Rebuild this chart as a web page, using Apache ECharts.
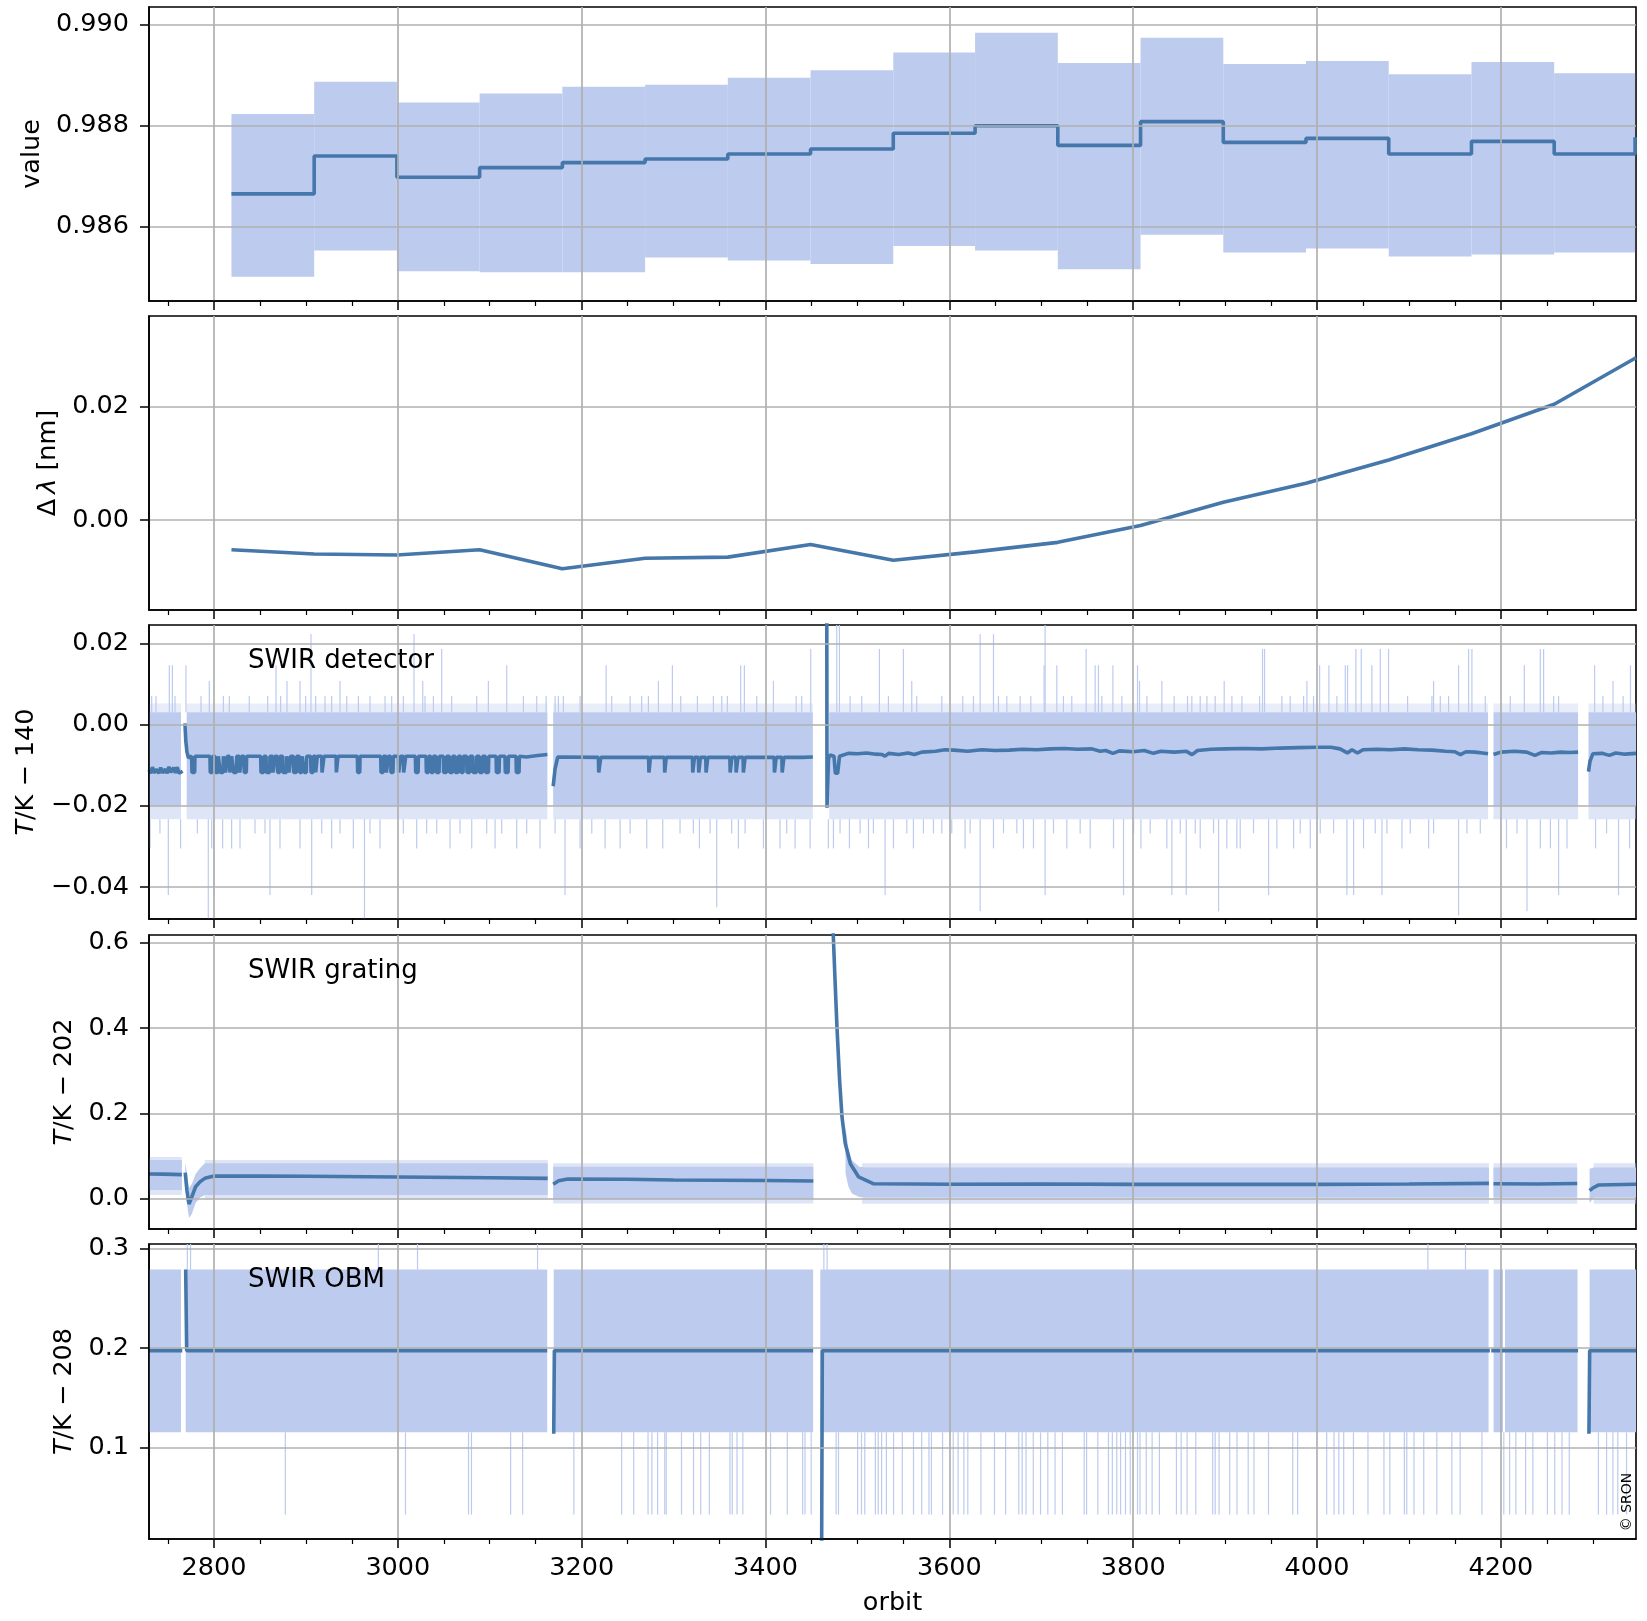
<!DOCTYPE html>
<html><head><meta charset="utf-8">
<script src="https://cdn.jsdelivr.net/npm/echarts@6/dist/echarts.min.js"></script>
<style>html,body{margin:0;padding:0;background:#fff}#c{width:1647px;height:1621px}</style>
</head><body><div id="c"></div>
<script>
// ---------------- data ----------------
const X_MIN = 2729.3, X_MAX = 4347;
const xMajor = [2800, 3000, 3200, 3400, 3600, 3800, 4000, 4200];
const xMinor = [2750,2850,2900,2950,3050,3100,3150,3250,3300,3350,3450,3500,3550,3650,3700,3750,3850,3900,3950,4050,4100,4150,4250,4300];

// panel 1: value (step mean with min/max band)
const p1_stepStart = [2819,2909,2999,3089,3179,3269,3359,3449,3539,3628,3718,3808,3898,3988,4078,4168,4258];
const p1_stepEnd   = [2909,2999,3089,3179,3269,3359,3449,3539,3628,3718,3808,3898,3988,4078,4168,4258,4346];
const p1_mean  = [0.98665,0.98740,0.98698,0.98717,0.98727,0.98734,0.98744,0.98754,0.98785,0.98800,0.98761,0.98808,0.98767,0.98775,0.98744,0.98769,0.98744];
const p1_upper = [0.98823,0.98887,0.98846,0.98864,0.98877,0.98881,0.98895,0.98910,0.98945,0.98984,0.98924,0.98974,0.98922,0.98928,0.98902,0.98926,0.98904];
const p1_lower = [0.98501,0.98553,0.98512,0.98510,0.98510,0.98539,0.98533,0.98526,0.98562,0.98553,0.98516,0.98584,0.98549,0.98557,0.98541,0.98545,0.98549];
const p1_nextMean = [4346, 0.98777];
const p1_yTicks = [0.986, 0.988, 0.990];

// panel 2: wavelength shift
const p2_x = [2819,2909,2999,3089,3179,3269,3359,3449,3539,3628,3718,3808,3898,3988,4078,4168,4258,4347];
const p2_v = [-0.00519,-0.00593,-0.00611,-0.00519,-0.00852,-0.00667,-0.00648,-0.00426,-0.00704,-0.00556,-0.00389,-0.00093,0.00315,0.00648,0.01056,0.01519,0.02037,0.02852];
const p2_yTicks = [0.00, 0.02];

// panel 3: SWIR detector temperature
const det_bandSegs = [[2729.3,2764.1],[2770.3,3162.7],[3169,3451.5],[3469.3,4186],[4192,4284],[4295.3,4347]];
const det_bandLo = -0.0200, det_bandHi = 0.0030, det_combLo = -0.0233, det_combHi = 0.0052;
const det_lineA = [[2729.3,-0.0112],[2731,-0.0120],[2733,-0.0105],[2735,-0.0119],[2737,-0.0110],[2740,-0.0120],[2742,-0.0106],[2744,-0.0119],[2747,-0.0110],[2749,-0.0120],[2751,-0.0104],[2753,-0.0118],[2756,-0.0106],[2758,-0.0119],[2760,-0.0105],[2762,-0.0120],[2765.9,-0.0115]];
const det_lineBStart = [[2768.4,0.0003],[2769.3,-0.0040],[2770.6,-0.0068],[2772.2,-0.0082],[2774,-0.0078]];
const det_lineBEnd = [[3140,-0.0080],[3150,-0.0077],[3162.7,-0.0074]];
const det_baseB = -0.0078, det_dipLevel = -0.0118;
const det_dipsB = [[2775.7,2779.3],[2795.6,2798.5],[2801.1,2804.7],[2806.5,2810.2],[2812.0,2814.5],[2816.7,2819.2],[2821.0,2824.7],[2827.6,2830.1],[2832.6,2835.5],[2850.8,2854.4],[2856.6,2860.9],[2863.8,2866.4],[2868.9,2871.8],[2874.7,2879.1],[2881.2,2883.4],[2886.3,2890.0],[2892.9,2895.8],[2897.9,2900.8],[2905.2,2908.1],[2910.3,2912.4],[2917.2,2919.7],[2932.8,2934.9],[2956.0,2958.9],[2981.4,2984.3],[2987.2,2989.7],[2992.2,2995.1],[3000.6,3003.1],[3006.0,3008.6],[3019.1,3022.4],[3030.7,3033.6],[3035.8,3038.7],[3041.6,3045.2],[3049.5,3053.2],[3056.1,3059.7],[3062.2,3065.9],[3068.4,3071.3],[3074.9,3078.6],[3081.5,3085.8],[3088.7,3092.3],[3095.2,3098.9],[3106.9,3110.5],[3116.6,3120.3],[3128.6,3132.2]];
const det_lineCStart = [[3169,-0.0152],[3171,-0.0110],[3174,-0.0080]];
const det_lineCEnd = [[3440,-0.0081],[3451.5,-0.0080]];
const det_baseC = -0.0081;
const det_dipsC = [[3218.2,3220.8],[3272.8,3274.8],[3290,3292],[3320.5,3322.7],[3327,3329.2],[3335,3337.2],[3361.2,3363.4],[3367.7,3370],[3375.6,3377.8],[3409.4,3411.6],[3417.8,3420]];
const det_lineD = [[3466.5,0.06],[3466.9,-0.0205],[3468.5,-0.0085],[3470,-0.0075],[3474.5,-0.0078],[3476,-0.0120],[3478.5,-0.0120],[3480.5,-0.0078],[3490,-0.0071],[3500,-0.0072],[3510,-0.0070],[3520,-0.0073],[3527,-0.0074],[3530,-0.0078],[3534,-0.0071],[3545,-0.0074],[3555,-0.0070],[3562,-0.0074],[3570,-0.0068],[3585,-0.0066],[3595,-0.0062],[3605,-0.0063],[3620,-0.0066],[3635,-0.0062],[3650,-0.0064],[3665,-0.0063],[3680,-0.0061],[3695,-0.0062],[3710,-0.0060],[3725,-0.0059],[3740,-0.0061],[3755,-0.0060],[3764,-0.0066],[3770,-0.0064],[3778,-0.0071],[3785,-0.0065],[3800,-0.0067],[3812,-0.0064],[3822,-0.0071],[3830,-0.0066],[3845,-0.0068],[3858,-0.0066],[3864,-0.0074],[3870,-0.0064],[3885,-0.0061],[3900,-0.0060],[3920,-0.0059],[3940,-0.0060],[3960,-0.0058],[3980,-0.0057],[4000,-0.0056],[4015,-0.0056],[4025,-0.0060],[4033,-0.0070],[4038,-0.0062],[4044,-0.0070],[4050,-0.0062],[4065,-0.0061],[4080,-0.0062],[4095,-0.0060],[4110,-0.0062],[4125,-0.0063],[4140,-0.0066],[4150,-0.0067],[4156,-0.0074],[4162,-0.0067],[4172,-0.0068],[4180,-0.0070],[4186,-0.0072]];
const det_lineE = [[4192,-0.0074],[4200,-0.0068],[4215,-0.0066],[4228,-0.0068],[4237,-0.0076],[4244,-0.0069],[4255,-0.0070],[4265,-0.0068],[4275,-0.0069],[4284,-0.0068]];
const det_lineF = [[4295.3,-0.0116],[4297,-0.0090],[4300,-0.0072],[4310,-0.0071],[4318,-0.0076],[4325,-0.0070],[4335,-0.0073],[4347,-0.0071]];
const det_up = [[2732.2,0.0070],[2736.9,0.0070],[2751.4,0.0146],[2754.7,0.0146],[2757.6,0.0070],[2769.5,0.0146],[2785.9,0.0070],[2794.9,0.0107],[2810.2,0.0070],[2816.7,0.0070],[2838.4,0.0070],[2858.4,0.0070],[2867.5,0.0146],[2872.5,0.0070],[2879.4,0.0107],[2893.6,0.0107],[2899.7,0.0070],[2905.5,0.0223],[2910.6,0.0070],[2920.8,0.0070],[2928.0,0.0070],[2937.1,0.0107],[2944.4,0.0070],[2957.1,0.0070],[2969.7,0.0070],[2986.1,0.0070],[2993.3,0.0070],[3006.0,0.0070],[3017.6,0.0223],[3027.1,0.0107],[3029.6,0.0070],[3038.7,0.0070],[3047.7,0.0186],[3058.6,0.0070],[3085.8,0.0070],[3098.5,0.0107],[3118.5,0.0146],[3136.6,0.0070],[3151.1,0.0070],[3161.3,0.0070],[3171.1,0.0070],[3174.7,0.0070],[3180.1,0.0070],[3198.3,0.0070],[3226.6,0.0146],[3232.7,0.0070],[3252.7,0.0070],
  [3265.3,0.0070],[3272.6,0.0070],[3283.5,0.0107],[3298.7,0.0146],[3307.8,0.0070],[3325.9,0.0070],[3343.3,0.0070],[3352.4,0.0070],[3358.5,0.0070],[3373.0,0.0146],[3377.0,0.0146],[3390.5,0.0070],[3408.6,0.0107],[3433.3,0.0070],[3439.4,0.0070],[3449.2,0.0186],[3477.5,0.0250],[3480.4,0.0250],[3492.0,0.0070],[3504.7,0.0070],[3523.9,0.0186],[3533.7,0.0070],[3550.0,0.0186],[3559.1,0.0107],[3564.5,0.0070],[3591.8,0.0070],[3614.6,0.0070],[3626.2,0.0070],[3633.5,0.0223],[3648.0,0.0223],[3653.4,0.0070],[3662.5,0.0070],[3677.0,0.0070],[3688.6,0.0070],[3703.1,0.0146],[3704.2,0.0250],[3716.9,0.0146],[3724.1,0.0070],[3733.2,0.0070],[3748.8,0.0186],[3758.6,0.0146],[3762.2,0.0146],
  [3765.9,0.0070],[3777.9,0.0146],[3787.7,0.0070],[3804.7,0.0146],[3806.9,0.0107],[3814.9,0.0070],[3831.2,0.0107],[3844.6,0.0070],[3859.1,0.0070],[3863.8,0.0070],[3872.9,0.0070],[3880.2,0.0070],[3889.2,0.0070],[3899.0,0.0107],[3907.4,0.0070],[3918.3,0.0070],[3937.5,0.0070],[3940.7,0.0186],[3942.9,0.0186],[3961.8,0.0070],[3970.8,0.0070],[3985.4,0.0070],[3989.0,0.0107],[3996.2,0.0070],[4002.8,0.0146],[4012.9,0.0146],[4021.6,0.0070],[4030.7,0.0146],[4033.2,0.0146],[4042.3,0.0186],[4048.1,0.0186],[4059.7,0.0146],[4068.8,0.0186],[4077.8,0.0186],[4098.5,0.0070],[4125.0,0.0070],[4126.8,0.0107],[4134.1,0.0070],[4143.1,0.0070],[4154.0,0.0146],[4164.9,0.0186],[4168.5,0.0186],[4183.0,0.0070],[4210.2,0.0070],[4225.5,0.0146],[4242.9,0.0186],[4246.5,0.0186],[4257.4,0.0070],[4262.8,0.0070],[4302,0.0146],[4311,0.0070],[4322,0.0107],[4333,0.0070],[4341,0.0146]];
const det_down = [[2730.4,-0.0305],[2741.2,-0.0268],[2750.3,-0.042],[2763.7,-0.0305],[2781.9,-0.0268],[2793.8,-0.048],[2797.5,-0.0305],[2800.0,-0.042],[2809.4,-0.0305],[2819.2,-0.0305],[2828.3,-0.0305],[2844.6,-0.0268],[2855.5,-0.0268],[2860.9,-0.042],[2871.8,-0.0305],[2893.6,-0.0305],[2906.3,-0.042],[2917.2,-0.0268],[2928.0,-0.0305],[2937.1,-0.0268],[2951.6,-0.0305],[2963.7,-0.048],[2969.7,-0.0268],[2980.6,-0.0305],[3006.0,-0.0268],[3020.5,-0.0305],[3031.4,-0.0268],[3042.3,-0.0268],[3056.8,-0.0305],[3067.7,-0.0268],[3080.4,-0.0305],[3096.7,-0.0268],[3105.8,-0.0305],[3113.0,-0.0268],[3129.3,-0.0305],[3140.2,-0.0268],[3154.7,-0.0305],[3171.1,-0.0268],[3181.9,-0.042],[3198.3,-0.0305],[3211.0,-0.0268],[3225.5,-0.0305],[3241.8,-0.0305],[3252.7,-0.0268],
  [3270.8,-0.0305],[3288.2,-0.0305],[3307.0,-0.0268],[3321.5,-0.0268],[3328.1,-0.0305],[3339.7,-0.0268],[3346.9,-0.045],[3363.2,-0.0268],[3370.5,-0.0305],[3377.8,-0.0268],[3397.7,-0.0305],[3415.8,-0.0305],[3423.1,-0.0268],[3432.2,-0.0305],[3448.5,-0.0305],[3468.4,-0.0305],[3473.9,-0.0305],[3481.1,-0.0268],[3491.3,-0.0305],[3502.9,-0.0268],[3512.0,-0.0305],[3517.4,-0.0268],[3530.1,-0.042],[3539.2,-0.0305],[3553.7,-0.0268],[3560.9,-0.0305],[3571.8,-0.0268],[3582.7,-0.0268],[3591.8,-0.0268],[3602.6,-0.0268],[3617.1,-0.0305],[3622.6,-0.0268],[3633.5,-0.046],[3648.0,-0.0305],[3658.9,-0.0268],[3673.4,-0.0268],[3680.6,-0.0305],[3691.5,-0.0305],[3704.2,-0.042],[3713.3,-0.0268],[3727.8,-0.0305],[3742.3,-0.0268],[3753.2,-0.0305],
  [3778.6,-0.0305],[3789.5,-0.042],[3800.4,-0.0268],[3808.4,-0.0305],[3818.5,-0.0268],[3836.6,-0.0305],[3842.1,-0.042],[3851.2,-0.0268],[3857.7,-0.042],[3867.5,-0.0268],[3872.9,-0.0305],[3887.4,-0.0268],[3892.9,-0.046],[3901.9,-0.0305],[3912.8,-0.0305],[3916.4,-0.0305],[3930.9,-0.0268],[3947.3,-0.042],[3956.3,-0.0305],[3974.5,-0.0305],[3981.7,-0.0268],[3992.6,-0.0305],[4003.5,-0.0268],[4018.0,-0.0268],[4032.5,-0.042],[4039.8,-0.042],[4050.6,-0.0305],[4063.3,-0.0268],[4070.6,-0.042],[4076.0,-0.0268],[4092.4,-0.0305],[4101.4,-0.0268],[4121.4,-0.0305],[4126.8,-0.0268],[4154.0,-0.047],[4163.1,-0.0268],[4177.6,-0.0268],[4206.1,-0.0305],[4217.5,-0.0268],[4228.4,-0.046],[4242.9,-0.0305],[4253.9,-0.0305],[4262.8,-0.042],[4271.9,-0.0305],[4303,-0.0305],[4315,-0.0268],[4328,-0.042],[4340,-0.0305]];
const det_yTicks = [-0.04, -0.02, 0.00, 0.02];

// panel 4: SWIR grating temperature
const grt_bandPolys = [
  [[2729.3,0.0203,0.0906],[2765,0.0203,0.0906]],
  [[2768.7,0.03,0.085],[2770.5,-0.01,0.06],[2772.8,-0.045,0.025],[2776,-0.035,0.035],[2780,-0.01,0.058],[2785,0.003,0.072],[2790,0.0086,0.083],[3163,0.0086,0.083]],
  [[3169,-0.001,0.075],[3452,-0.001,0.075]],
  [[3487,0.06,0.17],[3490,0.03,0.12],[3494,0.012,0.09],[3502,0.004,0.075],[3510,0.003,0.073],[4187,0.003,0.073]],
  [[4192,0.003,0.073],[4283,0.003,0.073]],
  [[4296.5,-0.01,0.07],[4301,0.003,0.073],[4347,0.003,0.073]]
];
const grt_combPolys = [
  [[2729.3,0.0086,0.098],[2765,0.0086,0.098]],
  [[2790,-0.0016,0.0906],[3163,-0.0016,0.0906]],
  [[3169,-0.011,0.083],[3452,-0.011,0.083]],
  [[3505,-0.012,0.083],[4187,-0.012,0.083]],
  [[4192,-0.012,0.083],[4283,-0.012,0.083]],
  [[4301,-0.012,0.083],[4347,-0.012,0.083]]
];
const grt_lineSegs = [
  [[2729.3,0.0578],[2745,0.0575],[2765,0.0565]],
  [[2768.7,0.061],[2770.5,0.02],[2772.8,-0.0125],[2776,0.005],[2780,0.028],[2785,0.040],[2790,0.0477],[2800,0.053],[2850,0.0530],[2900,0.0525],[3000,0.0508],[3100,0.049],[3163,0.0477]],
  [[3169,0.034],[3175,0.042],[3185,0.046],[3250,0.0455],[3300,0.044],[3400,0.0425],[3452,0.0416]],
  [[3466.5,2.5],[3471,1.0],[3473.5,0.63],[3475.6,0.514],[3477.7,0.404],[3480.6,0.278],[3483.2,0.192],[3486.8,0.129],[3492.3,0.082],[3501.3,0.051],[3517.7,0.035],[3600,0.034],[3700,0.0345],[3800,0.0335],[3900,0.034],[4000,0.0335],[4100,0.0345],[4187,0.036]],
  [[4192,0.035],[4240,0.0345],[4283,0.0355]],
  [[4296.5,0.019],[4300,0.025],[4306,0.032],[4347,0.034]]
];
const grt_yTicks = [0.0, 0.2, 0.4, 0.6];

// panel 5: SWIR OBM temperature
const obm_bandSegs = [[2729.3,2764.1],[2769.2,3162.5],[3169.6,3451.8],[3459.6,4186.6],[4192.1,4202.3],[4204.5,4283.4],[4296.5,4347]];
const obm_bandLo = 0.1155, obm_bandHi = 0.2788;
const obm_lineSegs = [
  [[2729.3,0.1975],[2765.5,0.1975]],
  [[2769.2,0.279],[2770.3,0.1975],[3162.5,0.1975]],
  [[3169.6,0.114],[3170.3,0.1975],[3451.8,0.1975]],
  [[3461,-0.02],[3461.8,0.1975],[4188,0.1975]],
  [[4189.5,0.1975],[4284,0.1975]],
  [[4295.8,0.114],[4296.6,0.1975],[4347,0.1975]]
];
const obm_upOrbits = [2771,2774.5,2978.8,3021.4,3152,3463.5,3467,4120.6,4161.5];
const obm_upTop = 0.31;
const obm_downOrbits = [2877.6,3008.3,3076.9,3080.1,3122.7,3135.8,3191.5,3243.5,3256.6,3272.2,3276.4,3282.6,3290.4,3292.0,3308.6,3321.7,3329.5,3338.9,3361.3,3363.8,3369.0,3375.3,3405.5,3423.7,3440.4,3443.0,3449.7,3476.8,3479.4,3500.2,3504.4,3508.0,3519.5,3522.6,3526.3,3531.5,3539.3,3548.8,3561.0,3569.9,3577.8,3580.5,3592.6,3604.2,3609.5,3615.8,3620.1,3634.3,3649.1,3661.2,3675.5,3679.2,3683.4,3691.3,3699.2,3707.1,3715.0,3723.0,3746.7,3749.3,3761.5,3773.1,3777.3,3782.1,3786.3,3791.6,3796.8,3804.7,3807.4,3814.2,3820.6,3828.5,3847.0,3852.2,3858.6,3868.1,3886.5,3889.2,3893.4,3905.0,3912.9,3925.1,3931.4,3947.2,3973.6,3978.9,4010.5,4018.5,4023.7,4029.0,4039.6,4055.4,4072.8,4079.2,4095.0,4097.6,4105.5,4116.1,4130.3,4146.7,4155.7,4179.4,4203.2,4209.5,4216.3,4226.9,4234.8,4250.6,4258.6,4266.5,4274.4,4306.1,4315.0,4321.9,4327.2,4336.7];
const obm_downBottom = 0.033;
const obm_yTicks = [0.1, 0.2, 0.3];

// ---------------- styling / layout ----------------
const FONT = 'DejaVu Sans';
const FS = 25.5;
const BAND = '#bccbee';
const LINEC = '#4577ab';
const GRIDC = '#b0b0b0';
const GRID_TOP = [7, 316, 625, 935, 1244];
const GRID_H = [294, 294, 294, 294, 295];
const Y_RANGE = [[0.98453, 0.99035], [-0.01577, 0.03586], [-0.04788, 0.0245], [-0.071, 0.618], [0.0085, 0.3045]];
const Y_TICKS = [p1_yTicks, p2_yTicks, det_yTicks, grt_yTicks, obm_yTicks];
const Y_DEC = [3, 2, 2, 1, 1];
const Y_NAMES = ['value', '{n|Δ\u2009}{i|λ}{n| [nm]}', '{i|T}{n|/K − 140}', '{i|T}{n|/K − 202}', '{i|T}{n|/K − 208}'];
const Y_NAMEGAP = [100, 88, 110, 68, 68];

// ---------------- builders ----------------
function segsToLine(segs) {
  const out = [];
  segs.forEach((s, k) => {
    if (k > 0) out.push([s[0][0], '-']);
    s.forEach(p => out.push(p));
  });
  return out;
}
function withDips(start, base, dips, level, end) {
  const pts = start.slice();
  dips.forEach(d => {
    pts.push([d[0], base]); pts.push([d[0] + 0.35, level]);
    pts.push([d[1] - 0.35, level]); pts.push([d[1], base]);
  });
  return pts.concat(end);
}
function rectPolys(segs, lo, hi) { return segs.map(s => [[s[0], lo, hi], [s[1], lo, hi]]); }

function bandSeries(panel, polys, opacity) {
  return {
    type: 'custom', xAxisIndex: panel * 2, yAxisIndex: panel, clip: true, silent: true, z: 1,
    data: polys.map((p, i) => [p[0][0], p[0][1], i]),
    encode: { x: 0, y: 1 },
    renderItem: function (params, api) {
      const poly = polys[params.dataIndex];
      const pts = [];
      poly.forEach(v => pts.push(api.coord([v[0], v[2]])));
      for (let k = poly.length - 1; k >= 0; k--) pts.push(api.coord([poly[k][0], poly[k][1]]));
      return { type: 'polygon', shape: { points: pts }, style: { fill: BAND, opacity: opacity } };
    }
  };
}
function spikeSeries(panel, items) {
  return {
    type: 'custom', xAxisIndex: panel * 2, yAxisIndex: panel, clip: true, silent: true, z: 1,
    data: items, encode: { x: 0, y: [1, 2] },
    renderItem: function (params, api) {
      const a = api.coord([api.value(0), api.value(1)]);
      const b = api.coord([api.value(0), api.value(2)]);
      return { type: 'line', shape: { x1: a[0], y1: a[1], x2: b[0], y2: b[1] }, style: { stroke: BAND, lineWidth: 1.2 } };
    }
  };
}
function lineSeries(panel, data) {
  return {
    type: 'line', xAxisIndex: panel * 2, yAxisIndex: panel, data: data, showSymbol: false, symbol: 'none',
    connectNulls: false, clip: true, silent: true, z: 3, lineStyle: { color: LINEC, width: 3.6 }
  };
}

// panel 1 step line and band
const p1_line = [];
p1_stepStart.forEach((x, i) => { p1_line.push([x, p1_mean[i]]); p1_line.push([p1_stepEnd[i], p1_mean[i]]); });
p1_line.push(p1_nextMean);
const p1_polys = p1_stepStart.map((x, i) => [[x, p1_lower[i], p1_upper[i]], [p1_stepEnd[i], p1_lower[i], p1_upper[i]]]);

// panel 2 line
const p2_line = p2_x.map((x, i) => [x, p2_v[i]]);

// panel 3
const det_line = segsToLine([
  det_lineA,
  withDips(det_lineBStart, det_baseB, det_dipsB, det_dipLevel, det_lineBEnd),
  withDips(det_lineCStart, det_baseC, det_dipsC, det_dipLevel, det_lineCEnd),
  det_lineD, det_lineE, det_lineF
]);
const det_upItems = det_up.map(s => [s[0], det_bandHi, s[1]]);
const det_downItems = det_down.map(s => [s[0], det_combLo, s[1]]);

// panel 5
const obm_upItems = obm_upOrbits.map(x => [x, obm_bandHi, obm_upTop]);
const obm_downItems = obm_downOrbits.map(x => [x, obm_bandLo, obm_downBottom]);

// ---------------- option ----------------
const grids = [], xAxes = [], yAxes = [];
for (let i = 0; i < 5; i++) {
  grids.push({ left: 149, right: 11, top: GRID_TOP[i], height: GRID_H[i], show: true, borderColor: '#000', borderWidth: 1.6, backgroundColor: 'rgba(0,0,0,0)' });
  xAxes.push({
    gridIndex: i, type: 'value', min: X_MIN, max: X_MAX, position: 'bottom', z: 5,
    axisLine: { show: true, onZero: false, lineStyle: { color: '#000', width: 1.6 } },
    axisTick: { show: true, inside: false, length: 9, lineStyle: { color: '#000', width: 1.5 }, customValues: xMajor },
    axisLabel: { show: i === 4, customValues: xMajor, margin: 16, fontSize: FS, fontFamily: FONT, color: '#000', formatter: v => String(Math.round(v)) },
    splitLine: { show: true, lineStyle: { color: GRIDC, width: 1.7 } },
    name: i === 4 ? 'orbit' : '', nameLocation: 'middle', nameGap: 51,
    nameTextStyle: { fontSize: FS, fontFamily: FONT, color: '#000' }
  });
  xAxes.push({
    gridIndex: i, type: 'value', min: X_MIN, max: X_MAX, position: 'top', offset: -GRID_H[i], z: 5,
    axisLine: { show: false, onZero: false },
    axisTick: { show: true, inside: true, length: 5, lineStyle: { color: '#000', width: 1.2 }, customValues: xMinor },
    axisLabel: { show: false, customValues: xMinor },
    splitLine: { show: false }
  });
  yAxes.push({
    gridIndex: i, type: 'value', min: Y_RANGE[i][0], max: Y_RANGE[i][1], z: 5,
    axisLine: { show: true, onZero: false, lineStyle: { color: '#000', width: 1.6 } },
    axisTick: { show: true, inside: false, length: 9, lineStyle: { color: '#000', width: 1.5 }, customValues: Y_TICKS[i] },
    axisLabel: {
      customValues: Y_TICKS[i], margin: 20, fontSize: FS, fontFamily: FONT, color: '#000',
      formatter: (v => { const s = Math.abs(v).toFixed(Y_DEC[i]); return v < -1e-12 ? '\u2212' + s : s; })
    },
    splitLine: { show: true, lineStyle: { color: GRIDC, width: 1.7 } },
    name: Y_NAMES[i], nameLocation: 'middle', nameGap: Y_NAMEGAP[i], nameRotate: 90,
    nameTextStyle: {
      fontSize: FS, fontFamily: FONT, color: '#000',
      rich: { n: { fontSize: FS, fontFamily: FONT, color: '#000' }, i: { fontSize: FS, fontFamily: FONT, color: '#000', fontStyle: 'italic' } }
    }
  });
}

const series = [
  bandSeries(0, p1_polys, 1), lineSeries(0, p1_line),
  lineSeries(1, p2_line),
  bandSeries(2, rectPolys(det_bandSegs, det_bandLo, det_bandHi), 1),
  bandSeries(2, rectPolys(det_bandSegs, det_combLo, det_bandLo), 0.5),
  bandSeries(2, rectPolys(det_bandSegs, det_bandHi, det_combHi), 0.35),
  spikeSeries(2, det_upItems), spikeSeries(2, det_downItems),
  lineSeries(2, det_line),
  bandSeries(3, grt_bandPolys, 1), bandSeries(3, grt_combPolys, 0.5),
  lineSeries(3, segsToLine(grt_lineSegs)),
  bandSeries(4, rectPolys(obm_bandSegs, obm_bandLo, obm_bandHi), 1),
  spikeSeries(4, obm_upItems), spikeSeries(4, obm_downItems),
  lineSeries(4, segsToLine(obm_lineSegs))
];

const labelStyle = { fontSize: 26, fontFamily: FONT, fill: '#000', align: 'left', verticalAlign: 'middle' };
const option = {
  animation: false,
  backgroundColor: '#fff',
  grid: grids, xAxis: xAxes, yAxis: yAxes, series: series,
  graphic: [
    { type: 'text', x: 248, y: GRID_TOP[2] + 36, style: Object.assign({ text: 'SWIR detector' }, labelStyle), z: 10 },
    { type: 'text', x: 248, y: GRID_TOP[3] + 36, style: Object.assign({ text: 'SWIR grating' }, labelStyle), z: 10 },
    { type: 'text', x: 248, y: GRID_TOP[4] + 36, style: Object.assign({ text: 'SWIR OBM' }, labelStyle), z: 10 },
    { type: 'text', x: 1627, y: 1502, rotation: Math.PI / 2, style: { text: '© SRON', fontSize: 14, fontFamily: FONT, fill: '#000', align: 'center', verticalAlign: 'middle' }, z: 10 }
  ]
};
const chart = echarts.init(document.getElementById('c'), null, { renderer: 'canvas' });
chart.setOption(option);
</script></body></html>
